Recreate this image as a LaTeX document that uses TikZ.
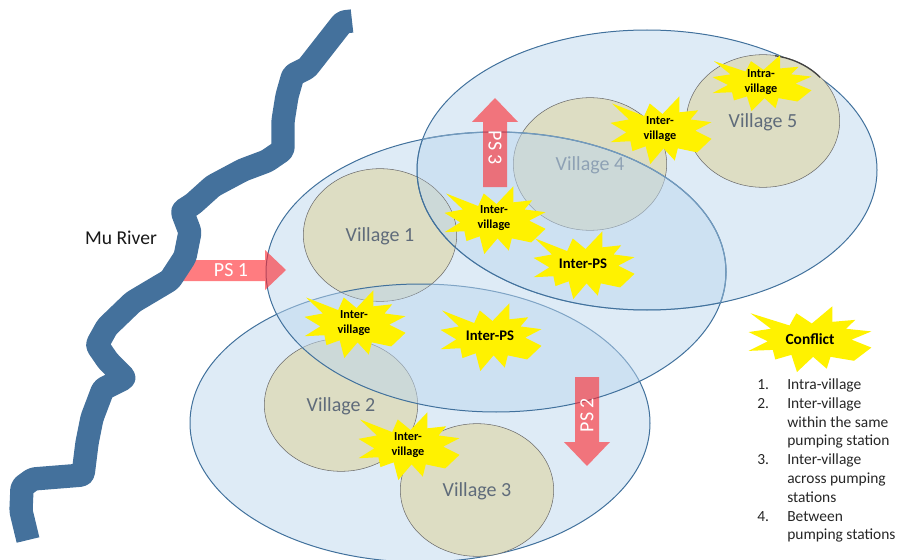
\documentclass[tikz,border=0pt]{standalone}
\usepackage{fontspec}
\setmainfont{Carlito}
\usetikzlibrary{shapes.geometric}
\definecolor{zoneline}{HTML}{41719C}
\definecolor{zonefill}{HTML}{BDD7EE}
\definecolor{villagefill}{HTML}{DDDDC3}
\definecolor{villagetext}{HTML}{5F6B7A}
\definecolor{rivercolor}{HTML}{44719C}
\definecolor{pumpcolor}{HTML}{FF252B}
\newcommand{\zoneone}{(496,272) ellipse (230 and 140)}
\newcommand{\zonetwo}{(420,423) ellipse (230 and 139)}
\newcommand{\zonethree}{(647,170) ellipse (230 and 140)}
\tikzset{zone/.style={draw=zoneline, fill=zonefill, fill opacity=0.5, line width=0.75pt},
    village/.style={ellipse, draw=gray!85!black, fill=villagefill, minimum width=115pt, minimum height=99.5pt, inner sep=0pt, text=villagetext, text depth=0pt, font=\fontsize{15}{18}\selectfont},
    pump/.style={fill=pumpcolor, fill opacity=0.6},
    pumplabel/.style={text=white, font=\fontsize{15}{18}\selectfont, inner sep=0pt},
    burstlabel/.style={align=center, inner sep=0pt, font=\fontsize{9.2}{11.2}\selectfont\bfseries},
    burst/.pic={\fill[yellow] (-.96,-.78) -- (-.33,-.41) -- (-.22,-.78) -- (.03,-.47) -- (.36,-.99) -- (.36,-.52) -- (.73,-.58) -- (.58,-.31) -- (.99,-.23) -- (.67,.02) -- (.99,.26) -- (.71,.66) -- (.33,.54) -- (.27,.90) -- (.05,.54) -- (-.21,1) -- (-.30,.48) -- (-.56,.62) -- (-.60,.33) -- (-.99,.36) -- (-.68,.07) -- (-.99,-.21) -- (-.63,-.31) -- cycle;}}

\begin{document}
\begin{tikzpicture}[x=0.75pt, y=-0.75pt]
    \useasboundingbox (0,0) rectangle (897,560);
    \clip (0,0) rectangle (897,560);

    \path[zone] \zonethree;
    \path[zone] \zonetwo;
    \node [village] (v4) at (590,164) {Village 4};
    \node [village] (v5) at (763,121) {Village 5};
    \node [village] (v2) at (341,405) {Village 2};
    \node [village] (v3) at (477,490) {Village 3};
    \begin{scope}
        \clip (775,50) rectangle (820,80);
        \draw[black!75, line width=0.9pt] (763,121) ellipse (76 and 66);
    \end{scope}
    \path[zone] \zoneone;
    \node [village] (v1) at (380,235) {Village 1};

    % tint of the other zones on village 1, and the crossing outlines
    \begin{scope}
        \clip (380,235) ellipse (76 and 66.5);
        \path[zone] \zonethree;
        \path[zone] \zonetwo;
    \end{scope}
    \begin{scope}
        \clip \zoneone;
        \draw[zoneline, line width=0.75pt] \zonethree;
    \end{scope}
    \begin{scope}
        \clip \zonethree;
        \draw[zoneline!60!zonefill, line width=0.9pt] \zoneone;
    \end{scope}

    \fill[pump] (180,260) -- (265,260) -- (265,250) -- (286,270) -- (265,290) -- (265,281) -- (180,281) -- cycle;
    \fill[pump] (483,187) -- (483,122) -- (472,122) -- (495,98) -- (518,122) -- (507,122) -- (507,187) -- cycle;
    \fill[pump] (575,377) -- (575,442) -- (564,442) -- (587,466) -- (610,442) -- (599,442) -- (599,377) -- cycle;
    \node [pumplabel] (ps1) at (231,270) {PS 1};
    \node [pumplabel, rotate=-90] (ps3) at (495,148) {PS 3};
    \node [pumplabel, rotate=90] (ps2) at (587,415) {PS 2};

    \draw[rivercolor, line width=17.5pt, line join=round, rounded corners=2pt] (352,21) -- (343,22) -- (325,45) -- (307,68) -- (293,75) -- (287,96) -- (283,121) -- (283,150) -- (267,161) -- (243,170) -- (213,186) -- (193,204) -- (182,211) -- (190,232) -- (185,257) -- (170,280) -- (133,302) -- (107,327) -- (97,345) -- (108,361) -- (125,378) -- (103,389) -- (92,418) -- (87,443) -- (83,475) -- (33,479) -- (22,487) -- (21,511) -- (28,540);
    \node [font=\fontsize{14.7}{18}\selectfont, text=black!90] (river) at (121,238) {Mu River};

    \pic[xscale=51, yscale=34] (b1) at (495,220) {burst};
    \node [burstlabel] (l1) at (494,218) {Inter-\\village};
    \pic[xscale=51, yscale=34] (b2) at (584,265) {burst};
    \node [burstlabel, font=\fontsize{11}{13}\selectfont\bfseries] (l2) at (583,264) {Inter-PS};
    \pic[xscale=51, yscale=34] (b3) at (661,130) {burst};
    \node [burstlabel] (l3) at (660,129) {Inter-\\village};
    \pic[xscale=50, yscale=28] (b4) at (762,83) {burst};
    \node [burstlabel] (l4) at (761,82) {Intra-\\village};
    \pic[xscale=51, yscale=34] (b5) at (355,324) {burst};
    \node [burstlabel] (l5) at (354,323) {Inter-\\village};
    \pic[xscale=51, yscale=34] (b6) at (491,337) {burst};
    \node [burstlabel, font=\fontsize{11}{13}\selectfont\bfseries] (l6) at (490,336) {Inter-PS};
    \pic[xscale=51, yscale=34] (b7) at (409,446) {burst};
    \node [burstlabel] (l7) at (408,445) {Inter-\\village};
    \pic[xscale=62, yscale=33] (b8) at (810,339) {burst};
    \node [burstlabel, font=\fontsize{11.6}{14}\selectfont\bfseries] (l8) at (810,339) {Conflict};

    \node [anchor=north west, inner sep=0pt, text=black!85, font=\fontsize{11.6}{14.1}\selectfont] (legend) at (757,376)
        {\begin{tabular}{@{}p{22.5pt}@{}l@{}}
            1. & Intra-village\\
            2. & Inter-village\\
               & within the same\\
               & pumping station\\
            3. & Inter-village\\
               & across pumping\\
               & stations\\
            4. & Between\\
               & pumping stations
        \end{tabular}};
\end{tikzpicture}
\end{document}
